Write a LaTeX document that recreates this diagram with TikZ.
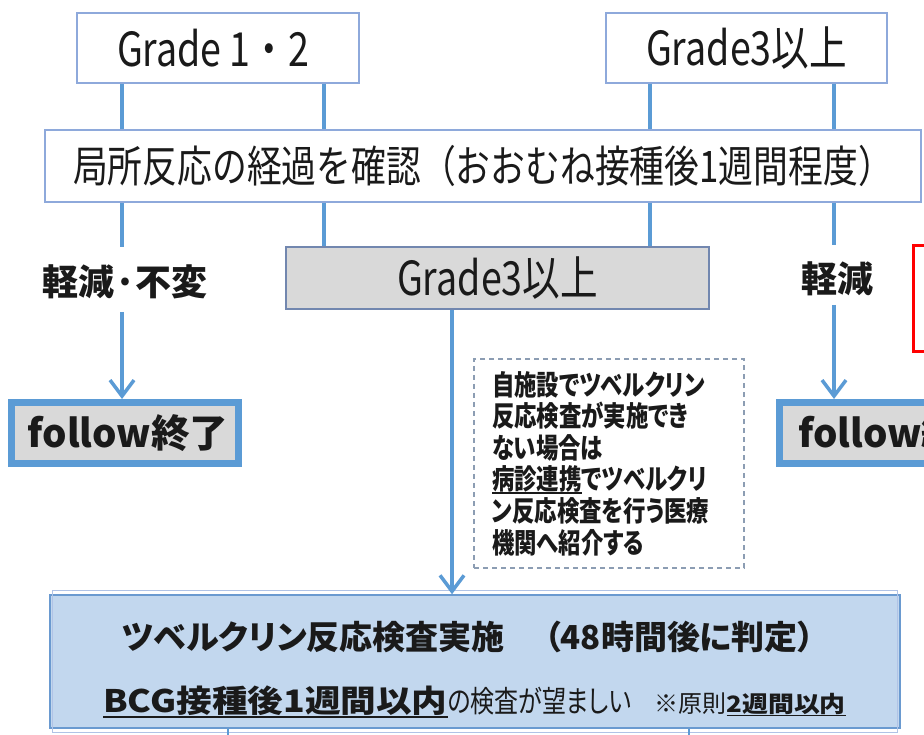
\documentclass[tikz,border=0pt]{standalone}
\usepackage{fontspec}
\setmainfont{Noto Sans CJK JP}[RawFeature=+palt]
\newfontfamily\condf{Noto Sans CJK JP}[FakeStretch=0.8,RawFeature=+palt]
\newfontfamily\condn{Noto Sans CJK JP}[FakeStretch=0.8]
\newfontfamily\widef{Noto Sans CJK JP}[FakeStretch=1.15,RawFeature=+palt]
\usetikzlibrary{arrows.meta}
\definecolor{conn}{HTML}{5B9BD5}
\definecolor{bordr}{HTML}{8EA9DB}
\definecolor{grayfill}{HTML}{D9D9D9}
\definecolor{bluefill}{HTML}{C2D7EE}
\definecolor{blueedge}{HTML}{6A9AD0}
\definecolor{dashc}{HTML}{8C9DB3}
\definecolor{txt}{HTML}{1A1A1A}
\newcommand\myul[1]{\leavevmode\setbox0\hbox{#1}\rlap{\rule[-0.16em]{\wd0}{0.07em}}\box0}
\begin{document}
\begin{tikzpicture}[x=1pt,y=-1pt,
  every node/.style={text=txt},
  plainbox/.style={draw=bordr,line width=1.5pt,fill=white,inner sep=0pt},
  graybox/.style={draw=bordr!80!black,line width=1.5pt,fill=grayfill,inner sep=0pt},
  followbox/.style={draw=conn,line width=7pt,fill=grayfill,inner sep=0pt,
    font=\fontsize{38.5}{40}\selectfont\bfseries},
  dashbox/.style={draw=dashc,line width=1.5pt,dash pattern=on 5pt off 4pt,fill=white,
    align=left,inner xsep=18pt,inner ysep=0pt,
    font=\condf\fontsize{28}{31.6}\selectfont\bfseries},
  bigbox/.style={draw=blueedge,line width=1.5pt,fill=bluefill,inner sep=0pt},
  link/.style={draw=conn,line width=3.5pt},
  arrowlink/.style={link,-{Straight Barb[length=16pt,width=24pt,line width=3.5pt]}},
]
\useasboundingbox (0,0) rectangle (924,735);
\fill[white] (0,0) rectangle (924,735);
\clip (0,0) rectangle (924,735);

% top boxes
\node[plainbox,minimum width=282pt,minimum height=70pt,font=\condn\fontsize{47}{49}\selectfont] (g12) at (218,48) {Grade\,1・2\hspace*{10pt}};
\node[plainbox,minimum width=281pt,minimum height=70pt,font=\condf\fontsize{47}{49}\selectfont] (g3) at (746.5,48) {Grade3以上};
% middle box
\node[plainbox,minimum width=876pt,minimum height=72pt,font=\condn\fontsize{43.5}{45}\selectfont] (mid) at (483,166) {局所反応の経過を確認（おおむね接種後1週間程度）};
% gray box
\node[graybox,minimum width=423pt,minimum height=62pt,font=\condf\fontsize{47}{49}\selectfont] (gb) at (497.5,278) {Grade3以上};
% labels
\node[font=\fontsize{36}{40}\selectfont\bfseries] (lbl1) at (125,282) {軽減·不変};
\node[font=\fontsize{36}{40}\selectfont\bfseries] (lbl2) at (837,279) {軽減};
% follow boxes
\node[followbox,minimum width=227pt,minimum height=61pt] (fl) at (125,433) {\hspace*{6pt}follow終了};
\node[followbox,minimum width=229pt,minimum height=61pt,anchor=west] (fr) at (775.5,433) {\hspace*{10pt}follow終了\hfill};
% red box (cut by the edge)
\node[draw=red,line width=3pt,minimum width=100pt,minimum height=106pt,anchor=north west,inner sep=0pt] (redbox) at (911.5,244.5) {};
% dashed note
\node[dashbox,minimum width=270pt,minimum height=209pt,text width=234pt] (note) at (609,463.5) {自施設でツベルクリン\\反応検査が実施でき\\ない場合は\\\myul{病診連携}でツベルクリ\\ン反応検査を行う医療\\機関へ紹介する};
% bottom box
\node[bigbox,minimum width=850pt,minimum height=133pt] (bb) at (475,661.5) {};
\draw[bordr!70!white,line width=1pt] ([shift={(3.5,3.5)}]bb.south west) rectangle ([shift={(-3.5,-3.5)}]bb.north east);
\node[anchor=west,inner sep=0pt,font=\fontsize{33}{36}\selectfont\bfseries] (t1) at (122,637) {ツベルクリン反応検査実施\hspace{1.2em}（48時間後に判定）};
\node[anchor=west,inner sep=0pt,font=\widef\fontsize{31}{34}\selectfont] (t2) at (103,702) {\myul{\bfseries BCG接種後1週間以内}{\condf\fontsize{30}{34}\selectfont の検査が望ましい}\hspace{0.75em}{\fontsize{22.5}{25}\selectfont{\rmfamily\fontsize{24}{25}\selectfont ※原則}\myul{\bfseries 2週間以内}}};

% connector x positions
\coordinate (xa) at (122,0);
\coordinate (xb) at (324,0);
\coordinate (xc) at (650,0);
\coordinate (xd) at (834,0);
\coordinate (xg) at (452,0);
\coordinate (e1) at (122,247);
\coordinate (e2) at (834,245);
\coordinate (s1) at (122,312);
\coordinate (s2) at (834,305);
\coordinate (b1) at (228,740);
\coordinate (b2) at (689,740);

\draw[link] (g12.south -| xa) -- (mid.north -| xa);
\draw[link] (g12.south -| xb) -- (mid.north -| xb);
\draw[link] (g3.south -| xc) -- (mid.north -| xc);
\draw[link] (g3.south -| xd) -- (mid.north -| xd);
\draw[link] (mid.south -| xa) -- (e1);
\draw[link] (mid.south -| xb) -- (gb.north -| xb);
\draw[link] (mid.south -| xc) -- (gb.north -| xc);
\draw[link] (mid.south -| xd) -- (e2);
\draw[arrowlink] (s1) -- (fl.north -| s1);
\draw[arrowlink] (s2) -- (fr.north -| s2);
\draw[arrowlink] (gb.south -| xg) -- (bb.north -| xg);
\draw[draw=conn,line width=2pt] (bb.south -| b1) -- (b1);
\draw[draw=conn,line width=2pt] (bb.south -| b2) -- (b2);
\end{tikzpicture}
\end{document}
